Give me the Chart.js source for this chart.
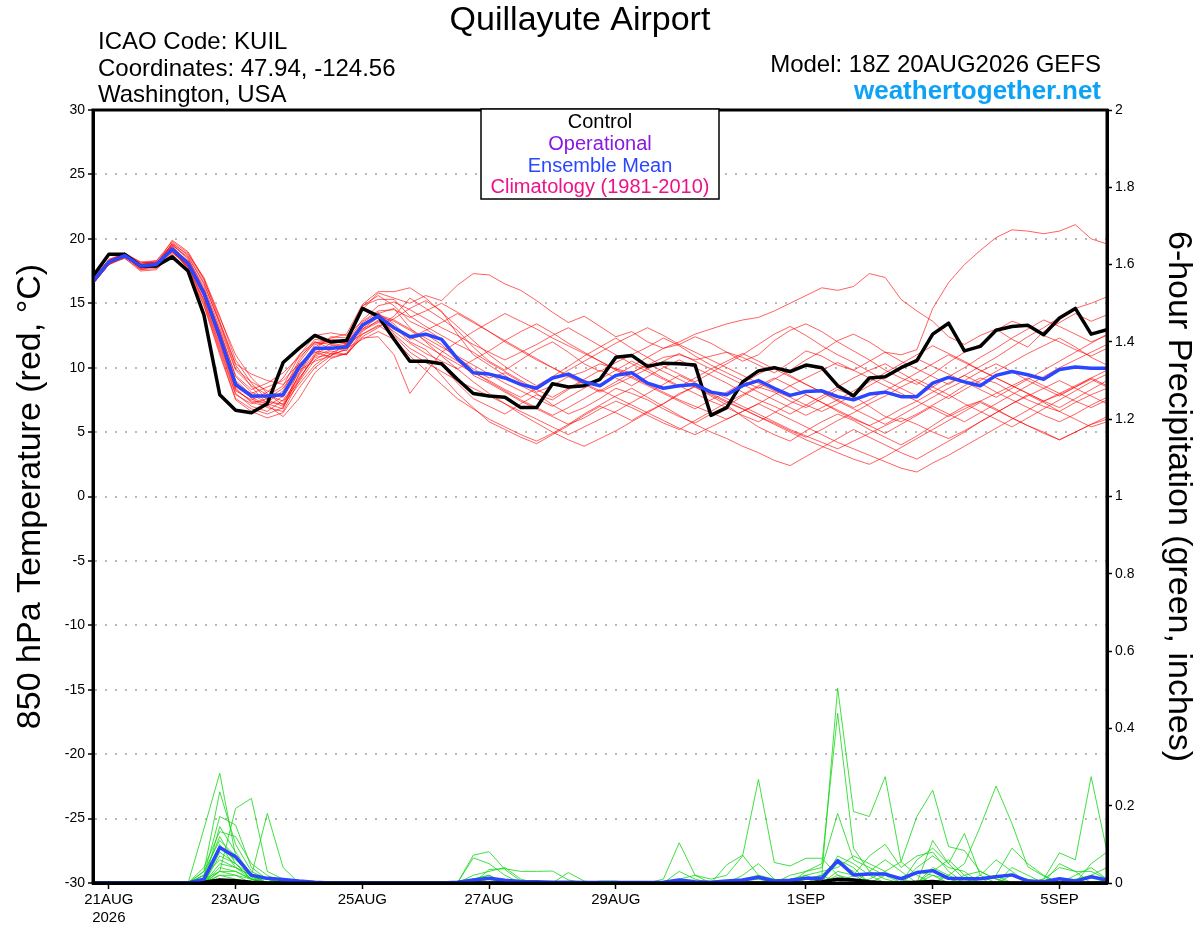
<!DOCTYPE html>
<html>
<head>
<meta charset="utf-8">
<title>Quillayute Airport - GEFS</title>
<script src="https://cdn.jsdelivr.net/npm/chart.js@4.4.1/dist/chart.umd.min.js"></script>
<style>
  html, body { margin: 0; padding: 0; background: #fff; }
  #wrap { width: 1200px; height: 927px; }
</style>
</head>
<body>
<div id="wrap"><canvas id="chart" width="1200" height="927"></canvas></div>
<script>
// GEFS meteogram - 850 hPa temperature and 6-hour precipitation

const FONT = '"Liberation Sans", Arial, Helvetica, sans-serif';

// x axis: 6-hour steps from 18Z 20AUG (step 0) to 18Z 5SEP (step 64)
const xTickSteps = [1, 9, 17, 25, 33, 45, 53, 61];
const xTickLabels = [['21AUG', '2026'], '23AUG', '25AUG', '27AUG', '29AUG', '1SEP', '3SEP', '5SEP'];

// 850 hPa temperature (C)
const ctrlTemp = [17.1, 18.8, 18.8, 17.9, 17.9, 18.6, 17.5, 14.1, 7.9, 6.7, 6.5, 7.2, 10.4, 11.5, 12.5, 12.0, 12.1, 14.6, 14.0,
  12.2, 10.5, 10.5, 10.3, 9.1, 8.0, 7.8, 7.7, 6.9, 6.9, 8.75, 8.5, 8.6, 9.1, 10.8, 10.95, 10.1, 10.35, 10.3, 10.2, 6.3, 6.9,
  8.9, 9.75, 10.0, 9.7, 10.2, 10.0, 8.6, 7.8, 9.2, 9.3, 10.0, 10.55, 12.6, 13.45, 11.3, 11.65, 12.9, 13.2, 13.3, 12.55, 13.85, 14.6, 12.6, 12.95];
const meanTemp = [16.7, 18.2, 18.7, 17.9, 18.0, 19.2, 18.1, 15.8, 12.4, 8.7, 7.8, 7.8, 7.9, 10.0, 11.5, 11.5, 11.6, 13.3, 14.0,
  13.1, 12.4, 12.6, 12.2, 10.7, 9.6, 9.5, 9.2, 8.7, 8.4, 9.2, 9.5, 8.9, 8.6, 9.4, 9.6, 8.8, 8.4, 8.6, 8.7, 8.1, 7.9,
  8.6, 9.0, 8.4, 7.85, 8.15, 8.2, 7.75, 7.5, 7.95, 8.1, 7.75, 7.75, 8.8, 9.25, 8.9, 8.6, 9.4, 9.7, 9.45, 9.1, 9.85, 10.05, 9.95, 9.95];

const t01 = [16.5, 18.1, 18.6, 17.8, 17.9, 19.5, 18.6, 16.5, 13.5, 10.2, 8.5, 7.2, 6.8, 9.5, 11.4, 12.4, 12.3, 14.8, 15.6,
  14.8, 13.6, 13.0, 12.2, 10.8, 9.9, 9.2, 9.6, 8.9, 8.1, 8.6, 9.3, 9.7, 10.3, 9.9, 9.6, 10.2, 10.8, 11.0, 10.6, 10.9, 11.2,
  10.8, 10.2, 9.6, 10.4, 11.3, 10.9, 10.2, 9.8, 10.5, 11.2, 11.0, 11.4, 14.6, 16.6, 18.0, 19.1, 20.1, 20.7, 20.6, 20.4, 20.6, 21.1, 20.0, 19.6];
const t02 = [16.8, 18.3, 18.9, 18.1, 18.2, 19.0, 17.8, 15.2, 11.6, 8.0, 7.0, 6.6, 7.5, 9.2, 10.8, 11.0, 11.4, 12.9, 13.5,
  13.2, 12.0, 11.4, 10.2, 8.8, 7.6, 7.0, 6.4, 7.2, 7.9, 7.5, 8.3, 9.0, 8.6, 9.4, 10.1, 10.8, 11.5, 12.0, 12.6, 13.0, 13.4,
  13.7, 13.9, 14.4, 15.0, 15.6, 16.2, 16.0, 16.3, 17.3, 17.0, 15.3, 14.4, 13.6, 12.4, 11.8, 12.5, 13.0, 12.2, 11.6, 12.8, 13.5, 14.2, 13.6, 14.1];
const t03 = [16.6, 18.1, 18.5, 17.5, 17.6, 18.9, 18.0, 16.0, 12.8, 9.4, 8.3, 8.8, 9.6, 10.8, 11.9, 12.2, 12.1, 14.5, 15.8,
  15.4, 15.0, 15.6, 15.2, 16.4, 17.3, 17.2, 16.5, 16.0, 15.2, 14.3, 13.5, 14.0, 13.2, 12.4, 12.8, 12.0, 11.5, 11.8, 12.4, 11.9, 11.2,
  10.5, 11.0, 12.1, 12.9, 13.4, 12.8, 12.0, 11.3, 10.6, 9.8, 9.2, 8.7, 9.5, 10.4, 11.2, 11.8, 12.9, 13.6, 13.2, 12.5, 12.0, 11.4, 10.9, 11.5];
const t04 = [16.9, 18.4, 18.8, 18.2, 18.3, 19.8, 18.9, 16.8, 13.9, 11.0, 9.2, 8.0, 7.1, 8.7, 10.2, 11.1, 11.8, 12.6, 13.2,
  13.8, 14.6, 15.2, 14.4, 12.6, 11.0, 10.2, 9.4, 8.6, 8.0, 7.1, 6.4, 6.9, 7.6, 8.4, 8.0, 7.5, 6.8, 6.2, 5.7, 6.4, 7.0,
  7.8, 8.5, 8.1, 7.4, 6.9, 7.6, 8.3, 7.8, 7.0, 6.2, 5.8, 6.4, 7.1, 7.8, 8.6, 9.2, 8.8, 8.1, 7.5, 7.0, 6.6, 7.3, 7.9, 8.4];
const t05 = [16.5, 18.0, 18.7, 17.6, 17.9, 19.3, 17.6, 14.9, 11.2, 7.6, 6.8, 6.4, 6.9, 9.9, 11.8, 12.0, 11.9, 13.5, 14.3,
  12.6, 11.5, 10.8, 9.4, 8.0, 6.9, 5.8, 5.2, 4.6, 4.1, 4.8, 5.5, 6.3, 7.0, 6.5, 5.9, 6.6, 7.2, 8.0, 8.5, 7.8, 7.1,
  6.2, 5.4, 4.8, 4.3, 5.1, 5.8, 6.4, 5.9, 5.2, 4.6, 4.0, 4.7, 5.5, 6.3, 7.0, 7.4, 6.8, 6.1, 5.5, 5.0, 4.4, 5.0, 5.6, 6.0];
const t06 = [16.7, 18.2, 18.6, 18.0, 18.1, 19.6, 18.4, 16.3, 13.1, 9.8, 8.6, 7.9, 7.4, 8.9, 10.6, 11.3, 11.0, 12.4, 13.1,
  14.0, 15.4, 14.6, 13.8, 12.9, 11.6, 10.5, 9.8, 10.6, 11.4, 12.0, 11.2, 10.3, 9.7, 10.4, 11.0, 11.6, 12.3, 11.7, 10.9, 10.2, 9.6,
  9.0, 8.4, 9.1, 9.8, 10.6, 11.3, 12.1, 12.6, 12.0, 11.2, 10.5, 9.9, 9.3, 8.7, 9.4, 10.1, 10.8, 11.6, 12.4, 13.1, 13.9, 14.6, 15.0, 15.5];
const t07 = [16.6, 18.2, 18.8, 17.9, 17.8, 19.1, 17.9, 15.5, 12.0, 8.3, 7.4, 7.3, 8.2, 10.6, 12.2, 12.0, 12.2, 14.8, 15.3,
  15.3, 14.0, 13.2, 12.5, 11.8, 11.2, 10.4, 9.7, 9.0, 8.3, 7.7, 8.4, 9.1, 9.8, 9.2, 8.6, 9.3, 10.0, 10.6, 10.0, 9.4, 8.8,
  8.1, 7.5, 7.0, 6.4, 7.1, 7.8, 8.5, 9.2, 9.8, 10.3, 9.6, 8.9, 8.2, 7.6, 8.3, 9.0, 9.7, 10.4, 11.1, 11.7, 12.3, 11.6, 10.8, 10.2];
const t08 = [16.8, 18.3, 18.7, 17.7, 18.0, 19.4, 18.2, 15.9, 12.6, 8.9, 7.6, 6.9, 6.6, 9.0, 11.0, 11.7, 11.9, 13.1, 14.2,
  13.4, 12.2, 12.6, 11.8, 10.6, 9.4, 8.8, 8.1, 7.4, 6.8, 6.2, 5.6, 6.1, 6.8, 7.4, 6.9, 6.3, 5.7, 5.2, 5.9, 6.6, 7.3,
  7.9, 8.6, 9.2, 8.6, 7.9, 7.3, 6.6, 6.0, 5.5, 6.1, 6.8, 7.4, 8.1, 8.8, 9.4, 8.8, 8.1, 7.5, 6.9, 6.3, 5.8, 6.4, 7.1, 7.7];
const t09 = [16.6, 18.1, 18.6, 18.0, 18.2, 19.0, 17.9, 15.6, 12.3, 8.6, 8.0, 8.5, 9.0, 10.3, 11.2, 10.8, 11.1, 12.8, 13.7,
  12.8, 11.9, 11.1, 10.5, 9.9, 10.6, 11.3, 12.1, 12.8, 13.4, 12.7, 11.9, 11.2, 10.5, 9.8, 9.2, 8.6, 8.0, 7.4, 6.8, 7.5, 8.1,
  8.8, 9.5, 10.1, 9.4, 8.7, 8.1, 7.4, 6.8, 6.2, 5.6, 6.3, 7.0, 7.7, 8.4, 9.0, 9.7, 10.3, 9.7, 9.0, 8.4, 7.8, 8.5, 9.2, 9.8];
const t10 = [16.7, 18.3, 18.8, 17.8, 17.9, 19.7, 18.7, 16.6, 13.4, 9.9, 8.9, 8.2, 7.7, 9.6, 11.6, 12.3, 12.6, 14.9, 15.9,
  15.9, 16.2, 15.4, 14.3, 13.2, 12.1, 11.0, 10.1, 9.3, 8.6, 9.3, 10.1, 10.9, 11.6, 12.3, 11.5, 10.8, 10.1, 9.5, 8.9, 9.6, 10.3,
  11.0, 11.8, 12.6, 13.2, 12.5, 11.7, 11.0, 10.4, 9.7, 9.0, 8.4, 7.8, 8.5, 9.3, 10.0, 10.8, 11.5, 12.3, 13.0, 13.7, 13.2, 12.6, 12.0, 12.5];
const t11 = [16.5, 18.0, 18.5, 17.6, 17.7, 18.8, 17.4, 14.8, 11.0, 7.5, 6.6, 6.1, 6.5, 8.4, 10.0, 10.9, 11.5, 12.2, 12.8,
  12.2, 10.9, 9.8, 8.7, 7.6, 6.8, 6.0, 5.4, 4.8, 4.3, 4.9, 5.6, 6.4, 7.1, 7.8, 8.4, 7.7, 7.0, 6.3, 5.6, 5.0, 4.5,
  3.9, 3.4, 2.8, 2.4, 3.1, 3.8, 4.5, 5.2, 4.6, 4.0, 3.4, 2.9, 3.6, 4.3, 5.0, 5.8, 6.5, 7.2, 7.9, 7.3, 6.6, 6.0, 5.4, 5.8];
const t12 = [16.8, 18.2, 18.7, 18.1, 18.3, 19.5, 18.5, 16.1, 12.9, 9.3, 8.1, 7.6, 7.9, 9.9, 11.4, 11.6, 11.3, 13.2, 14.1,
  13.7, 13.0, 12.3, 11.6, 10.9, 10.2, 9.5, 8.8, 8.2, 7.6, 7.0, 7.7, 8.4, 9.1, 9.8, 10.5, 9.9, 9.2, 8.6, 8.0, 7.4, 6.9,
  6.3, 5.8, 6.5, 7.2, 7.9, 7.3, 6.7, 6.1, 5.5, 4.9, 5.6, 6.3, 7.0, 6.4, 5.8, 6.5, 7.2, 7.9, 8.6, 9.3, 10.0, 10.6, 11.2, 11.8];
const t13 = [16.6, 18.2, 18.9, 18.0, 18.1, 19.2, 18.0, 15.7, 12.2, 8.5, 7.7, 7.8, 8.6, 10.9, 12.5, 12.7, 12.5, 13.6, 14.4,
  14.5, 13.9, 14.4, 15.0, 14.3, 13.6, 12.8, 12.0, 11.3, 10.6, 10.0, 9.4, 8.8, 8.2, 8.9, 9.6, 10.3, 9.7, 9.1, 8.5, 7.9, 7.3,
  6.8, 6.2, 5.7, 5.1, 4.6, 5.2, 5.9, 6.5, 7.2, 7.8, 8.5, 9.1, 8.5, 7.9, 7.2, 6.6, 6.0, 5.4, 6.1, 6.8, 7.5, 8.2, 8.9, 9.5];
const t14 = [16.7, 18.1, 18.6, 17.8, 17.9, 19.6, 18.8, 17.0, 14.0, 10.6, 8.8, 7.5, 7.0, 9.1, 10.9, 11.4, 11.7, 13.0, 13.6,
  13.1, 12.4, 11.7, 11.0, 10.3, 9.6, 9.0, 8.3, 7.7, 8.4, 9.1, 9.8, 10.5, 11.2, 11.9, 12.5, 13.1, 12.5, 11.8, 11.2, 10.6, 10.0,
  9.4, 8.8, 8.2, 7.7, 7.1, 6.6, 7.2, 7.9, 8.6, 9.3, 10.0, 10.7, 10.1, 9.5, 8.9, 8.3, 7.7, 8.4, 9.1, 9.8, 10.5, 11.2, 11.9, 12.6];
const t15 = [16.9, 18.4, 18.9, 18.2, 18.1, 19.1, 17.7, 15.1, 11.4, 7.9, 7.2, 7.6, 8.4, 10.2, 11.3, 11.1, 11.0, 12.6, 13.3,
  12.5, 11.2, 10.4, 9.7, 9.0, 8.4, 7.8, 7.2, 6.6, 6.0, 5.4, 4.8, 5.4, 6.0, 6.6, 7.3, 8.0, 8.7, 9.4, 8.8, 8.2, 7.6,
  7.0, 6.4, 5.8, 5.2, 4.7, 4.2, 3.7, 4.3, 4.9, 5.5, 6.1, 5.6, 5.0, 4.5, 5.1, 5.8, 6.5, 7.2, 7.8, 8.4, 9.0, 8.4, 7.8, 7.2];
const t16 = [16.6, 18.1, 18.7, 17.9, 18.0, 19.3, 18.3, 16.0, 12.7, 9.0, 7.9, 7.3, 7.2, 9.4, 11.1, 11.9, 12.0, 13.7, 14.8,
  15.1, 14.5, 13.8, 13.1, 12.5, 11.8, 11.2, 10.6, 11.2, 11.8, 12.5, 13.1, 12.4, 11.7, 11.0, 10.3, 9.7, 9.1, 8.5, 9.2, 9.9, 10.5,
  11.1, 10.5, 9.9, 9.3, 8.7, 8.1, 7.5, 6.9, 7.5, 8.2, 8.9, 9.6, 10.3, 11.0, 10.4, 9.8, 9.2, 8.6, 8.0, 7.4, 6.9, 7.6, 8.3, 9.0];
const t17 = [16.7, 18.3, 18.8, 18.0, 18.2, 19.4, 18.1, 15.6, 12.1, 8.4, 7.3, 7.0, 7.8, 10.4, 12.0, 11.8, 11.6, 13.4, 14.0,
  13.6, 12.9, 12.1, 11.3, 10.5, 9.7, 8.9, 8.2, 7.5, 6.9, 6.3, 6.9, 7.6, 8.3, 7.7, 7.1, 6.5, 5.9, 5.3, 4.8, 5.4, 6.0,
  6.6, 7.2, 6.6, 6.0, 5.4, 4.8, 4.2, 3.7, 3.2, 2.7, 2.2, 1.9, 2.6, 3.2, 3.9, 4.6, 5.3, 6.0, 6.7, 7.4, 8.0, 8.6, 9.2, 8.6];
const t18 = [16.8, 18.2, 18.6, 17.7, 17.8, 19.0, 17.8, 15.3, 11.8, 8.2, 7.5, 8.1, 9.2, 11.0, 12.0, 11.5, 11.8, 13.0, 13.9,
  13.0, 12.3, 12.9, 13.5, 14.2, 13.5, 12.8, 12.1, 11.4, 10.7, 10.0, 9.3, 8.7, 8.1, 8.7, 9.3, 9.9, 10.5, 11.1, 10.5, 9.9, 9.3,
  8.7, 8.1, 7.5, 6.9, 6.3, 6.9, 7.5, 8.2, 8.9, 9.6, 10.3, 11.0, 11.7, 11.1, 10.5, 9.8, 9.2, 8.6, 8.0, 7.4, 7.9, 8.5, 9.1, 8.5];
const t19 = [16.5, 18.0, 18.6, 17.8, 18.0, 19.9, 19.0, 16.9, 13.6, 10.3, 9.5, 9.0, 8.7, 9.8, 10.5, 10.9, 11.9, 13.3, 14.2,
  14.6, 13.1, 12.0, 10.9, 9.9, 8.9, 8.0, 7.2, 6.4, 5.7, 5.0, 4.4, 3.9, 4.5, 5.1, 5.8, 6.5, 7.2, 7.9, 8.6, 8.0, 7.4,
  6.8, 6.2, 5.6, 5.0, 4.4, 3.9, 3.4, 2.9, 2.5, 3.1, 3.8, 4.5, 5.2, 5.9, 6.6, 7.3, 6.7, 6.1, 5.5, 4.9, 4.4, 5.0, 5.6, 6.2];
const t20 = [16.7, 18.2, 18.7, 18.0, 18.1, 19.2, 18.2, 15.9, 12.5, 8.8, 7.7, 7.1, 6.2, 7.6, 9.6, 10.7, 11.1, 12.3, 12.4,
  11.0, 8.0, 9.6, 11.2, 12.0, 12.8, 13.5, 14.2, 13.6, 13.0, 12.3, 11.7, 11.1, 10.5, 9.9, 9.3, 8.7, 8.1, 7.5, 7.0, 6.5, 6.0,
  6.6, 7.2, 7.9, 8.6, 9.2, 9.8, 10.4, 9.8, 9.2, 8.6, 8.0, 7.4, 6.8, 6.2, 6.8, 7.4, 8.0, 8.6, 9.2, 8.6, 8.0, 7.4, 6.9, 7.5];
const tempMembers = [t01, t02, t03, t04, t05, t06, t07, t08, t09, t10, t11, t12, t13, t14, t15, t16, t17, t18, t19, t20];

// 6-hour precipitation (inches)
const ctrlPrecip = [0, 0, 0, 0, 0, 0, 0, 0.002, 0.008, 0.006, 0.002, 0, 0, 0, 0, 0, 0, 0, 0, 0, 0, 0, 0, 0, 0,
  0, 0, 0, 0, 0, 0, 0, 0, 0, 0, 0, 0, 0, 0, 0, 0, 0, 0, 0, 0, 0, 0.003, 0.01, 0.008, 0.003,
  0, 0, 0.002, 0.004, 0, 0, 0, 0, 0, 0, 0, 0, 0, 0, 0];
const meanPrecip = [0, 0, 0, 0, 0, 0, 0, 0.01, 0.092, 0.068, 0.02, 0.012, 0.009, 0.005, 0.002, 0, 0, 0, 0, 0,
  0, 0, 0, 0.002, 0.008, 0.012, 0.007, 0.004, 0.003, 0.002, 0.002, 0.001, 0.001, 0.001, 0.001,
  0.001, 0.002, 0.008, 0.003, 0.002, 0.005, 0.008, 0.015, 0.005, 0.007, 0.012, 0.012, 0.058, 0.021, 0.023,
  0.023, 0.011, 0.027, 0.032, 0.012, 0.011, 0.011, 0.016, 0.021, 0.005, 0.003, 0.011, 0.005, 0.016, 0.008];

const p01 = [0,0,0,0,0, 0,0,0.14,0.284,0.07, 0.02,0.01,0,0,0, 0,0,0,0,0, 0,0,0,0,0.01, 0.02,0,0,0,0, 0,0,0,0,0, 0,0,0,0,0, 0,0.02,0.05,0.01,0, 0,0.02,0.504,0.185,0.172, 0.275,0.055,0.02,0,0, 0,0.01,0.02,0,0, 0,0.01,0,0,0];
const p02 = [0,0,0,0,0, 0,0,0.03,0.236,0.1, 0.03,0.01,0,0,0, 0,0,0,0,0, 0,0,0,0,0, 0,0,0,0,0, 0,0,0,0,0, 0,0,0,0,0, 0,0,0,0,0, 0.03,0.05,0.439,0.09,0.03, 0.01,0,0,0.02,0.01, 0,0,0,0,0, 0,0,0,0,0];
const p03 = [0,0,0,0,0, 0,0,0.02,0.172,0.15, 0.04,0.01,0,0,0, 0,0,0,0,0, 0,0,0,0,0, 0,0,0,0,0, 0,0,0,0,0, 0,0,0.01,0.02,0.01, 0.02,0.07,0.268,0.053,0.044, 0.064,0.064,0.02,0,0, 0,0,0,0,0, 0,0,0,0,0, 0,0,0,0,0];
const p04 = [0,0,0,0,0, 0,0,0.01,0.03,0.193, 0.219,0.03,0.01,0,0, 0,0,0,0,0, 0,0,0,0,0, 0,0,0,0,0, 0,0,0,0,0, 0,0,0,0,0, 0,0,0,0,0, 0,0,0,0,0.01, 0.03,0.055,0.172,0.24,0.094, 0.084,0.03,0.01,0,0, 0,0,0,0,0];
const p05 = [0,0,0,0,0, 0,0,0,0.146,0.08, 0.02,0,0,0,0, 0,0,0,0,0, 0,0,0,0,0.072, 0.081,0.035,0.005,0,0, 0,0,0,0,0, 0,0,0,0,0, 0,0,0,0,0, 0,0,0,0,0, 0,0,0,0,0.02, 0.05,0.146,0.251,0.154,0.042, 0.018,0,0,0,0];
const p06 = [0,0,0,0,0, 0,0,0.04,0.133,0.12, 0.05,0.02,0,0,0, 0,0,0,0,0, 0,0,0,0,0, 0,0,0,0,0, 0,0,0,0,0, 0,0,0,0,0, 0,0,0,0,0, 0,0,0,0,0, 0,0,0,0,0, 0,0,0,0,0, 0.01,0.078,0.06,0.275,0.081];
const p07 = [0,0,0,0,0, 0,0,0.02,0.12,0.05, 0.02,0.18,0.04,0,0, 0,0,0,0,0, 0,0,0,0,0, 0,0,0,0,0, 0,0,0,0,0, 0,0.01,0.104,0.02,0, 0,0,0,0,0.02, 0.03,0.04,0.18,0.06,0.04, 0.02,0,0,0,0, 0,0,0,0,0, 0,0,0,0,0];
const p08 = [0,0,0,0,0, 0,0,0.03,0.11,0.07, 0.015,0,0,0,0, 0,0,0,0,0, 0,0,0,0,0.065, 0.05,0.02,0,0,0, 0,0,0,0,0, 0,0,0,0,0, 0,0,0,0,0, 0,0,0,0,0, 0,0,0.06,0.09,0.05, 0.128,0.02,0,0,0, 0,0,0,0,0];
const p09 = [0,0,0,0,0, 0,0,0,0.1,0.04, 0.01,0,0,0,0, 0,0,0,0,0, 0,0,0,0,0, 0.035,0.037,0.03,0.03,0.031, 0.008,0,0,0,0, 0,0,0,0,0, 0,0,0,0,0, 0,0,0,0.02,0.07, 0.1,0.04,0.07,0.08,0.03, 0,0,0,0,0, 0,0,0,0,0];
const p10 = [0,0,0,0,0, 0,0,0,0.09,0.06, 0.02,0,0,0,0, 0,0,0,0,0, 0,0,0,0,0, 0,0,0,0,0, 0,0,0,0,0, 0,0,0,0,0, 0.047,0.072,0.02,0,0, 0,0.01,0.05,0.03,0, 0,0,0,0,0, 0,0,0.02,0.09,0.05, 0.02,0,0,0,0];
const p11 = [0,0,0,0,0, 0,0,0,0.08,0.05, 0.01,0,0,0,0, 0,0,0,0,0, 0,0,0,0,0.02, 0.03,0.04,0.01,0,0, 0,0,0,0,0, 0,0,0,0,0, 0,0,0,0,0.01, 0.02,0,0,0,0, 0,0,0.04,0.07,0.04, 0.03,0,0,0,0, 0,0,0.02,0.04,0.01];
const p12 = [0,0,0,0,0, 0,0,0,0.07,0.05, 0.01,0.01,0.01,0,0, 0,0,0,0,0, 0,0,0,0,0, 0,0,0,0,0, 0.027,0.005,0,0,0, 0,0,0,0,0, 0,0,0,0,0, 0,0,0.07,0.05,0.02, 0,0,0,0,0, 0,0,0,0,0, 0,0.05,0.03,0.03,0.01];
const p13 = [0,0,0,0,0, 0,0,0.02,0.06,0.04, 0.02,0,0,0,0, 0,0,0,0,0, 0,0,0,0,0, 0,0,0,0,0, 0,0,0,0,0, 0,0,0.03,0.01,0, 0,0,0,0,0, 0.02,0.03,0.04,0.07,0.05, 0.03,0,0,0,0, 0,0.02,0.06,0.03,0, 0,0,0,0,0];
const p14 = [0,0,0,0,0, 0,0,0,0.05,0.04, 0.02,0.01,0,0,0, 0,0,0,0,0, 0,0,0,0,0.01, 0.02,0,0,0,0, 0,0,0,0,0, 0,0,0,0,0, 0,0,0,0,0, 0,0,0,0,0, 0,0,0,0.11,0.05, 0.01,0,0,0,0, 0.01,0.04,0.03,0,0];
const p15 = [0,0,0,0,0, 0,0,0,0.04,0.03, 0.01,0,0,0,0, 0,0,0,0,0, 0,0,0,0,0, 0,0,0,0,0, 0,0,0,0,0, 0,0,0,0,0, 0,0.01,0.02,0.01,0, 0,0,0,0,0.03, 0.06,0.03,0,0,0, 0,0,0,0.02,0.01, 0,0,0.01,0.02,0.04];
const p16 = [0,0,0,0,0, 0,0,0,0.03,0.03, 0.01,0,0,0,0, 0,0,0,0,0, 0,0,0,0,0, 0,0,0,0,0, 0,0,0.005,0.005,0, 0,0,0,0,0, 0,0,0,0,0, 0,0,0.03,0.02,0, 0,0,0,0.03,0.06, 0.02,0,0,0,0, 0,0,0,0.05,0.08];
const p17 = [0,0,0,0,0, 0,0,0,0.03,0.02, 0,0,0,0,0, 0,0,0,0,0, 0,0,0,0,0, 0,0,0,0,0, 0,0,0,0,0, 0,0,0,0,0, 0,0,0,0,0, 0.01,0.02,0.06,0.04,0, 0,0,0,0,0, 0.02,0.03,0.01,0,0, 0,0,0,0,0];
const p18 = [0,0,0,0,0, 0,0,0,0.02,0.02, 0.01,0,0,0,0, 0,0,0,0,0, 0,0,0,0,0, 0.01,0,0,0,0, 0,0,0,0,0, 0,0,0,0,0, 0,0.005,0.01,0,0, 0,0,0,0,0, 0.02,0.01,0,0,0, 0,0,0,0.04,0.02, 0,0,0,0,0];
const p19 = [0,0,0,0,0, 0,0,0,0.02,0.01, 0,0,0,0,0, 0,0,0,0,0, 0,0,0,0,0, 0,0,0,0,0, 0,0,0,0,0, 0,0,0,0,0, 0,0,0,0,0, 0,0,0.02,0.01,0, 0,0,0,0.04,0.02, 0,0,0,0,0, 0,0,0,0.02,0];
const p20 = [0,0,0,0,0, 0,0,0,0.01,0, 0,0,0,0,0, 0,0,0,0,0, 0,0,0,0,0, 0,0,0,0,0, 0,0,0,0,0, 0,0,0,0,0, 0,0,0,0,0, 0.01,0.02,0,0,0, 0,0,0.03,0.02,0, 0,0,0,0,0, 0,0,0,0,0.01];
const precipMembers = [p01, p02, p03, p04, p05, p06, p07, p08, p09, p10, p11, p12, p13, p14, p15, p16, p17, p18, p19, p20];

// header / legend texts
const titleText = 'Quillayute Airport';
const infoLeft = ['ICAO Code: KUIL', 'Coordinates: 47.94, -124.56', 'Washington, USA'];
const modelText = 'Model: 18Z 20AUG2026 GEFS';
const siteText = 'weathertogether.net';
const legendItems = ['Control', 'Operational', 'Ensemble Mean', 'Climatology (1981-2010)'];
const legendColors = ['#000000', '#8a18e2', '#2b46ff', '#ee1188'];

const BLUE = '#2b46ff';

function toPoints(arr) {
    return arr.map((v, i) => ({ x: i, y: v }));
}

// header text, legend box and plot frame
const decorPlugin = {
    id: 'decor',
    afterDraw(chart) {
        const ctx = chart.ctx;
        const a = chart.chartArea;
        ctx.save();

        ctx.strokeStyle = '#000';
        ctx.lineWidth = 3;
        ctx.setLineDash([]);
        ctx.strokeRect(a.left, a.top, a.right - a.left, a.bottom - a.top);

        ctx.fillStyle = '#000';
        ctx.textBaseline = 'alphabetic';
        ctx.textAlign = 'center';
        ctx.font = '34px ' + FONT;
        ctx.fillText(titleText, 580, 30);

        ctx.textAlign = 'left';
        ctx.font = '24px ' + FONT;
        infoLeft.forEach((t, i) => ctx.fillText(t, 98, 49 + i * 26.5));

        ctx.textAlign = 'right';
        ctx.fillText(modelText, 1101, 72);
        ctx.font = 'bold 26px ' + FONT;
        ctx.fillStyle = '#0ea2f6';
        ctx.fillText(siteText, 1101, 99);

        // legend box
        ctx.fillStyle = '#fff';
        ctx.fillRect(481, 109, 238, 90);
        ctx.strokeStyle = '#000';
        ctx.lineWidth = 1.5;
        ctx.strokeRect(481, 109, 238, 90);
        ctx.textAlign = 'center';
        ctx.font = '20px ' + FONT;
        legendItems.forEach((t, i) => {
            ctx.fillStyle = legendColors[i];
            ctx.fillText(t, 600, 128 + i * 21.8);
        });

        ctx.restore();
    }
};

const datasets = [
    { data: toPoints(meanTemp), yAxisID: 'y', borderColor: BLUE, borderWidth: 3.5, order: 0 },
    { data: toPoints(ctrlTemp), yAxisID: 'y', borderColor: '#000', borderWidth: 3.5, order: 1 },
    { data: toPoints(meanPrecip), yAxisID: 'y1', borderColor: BLUE, borderWidth: 3.5, order: 0 },
    { data: toPoints(ctrlPrecip), yAxisID: 'y1', borderColor: '#000', borderWidth: 3.5, order: 1 },
];
tempMembers.forEach(m => datasets.push({
    data: toPoints(m), yAxisID: 'y', borderColor: 'rgba(255,0,0,0.62)', borderWidth: 1, order: 3,
}));
precipMembers.forEach(m => datasets.push({
    data: toPoints(m), yAxisID: 'y1', borderColor: 'rgba(20,215,20,0.8)', borderWidth: 1, order: 3,
}));

Chart.defaults.font.family = FONT;
Chart.defaults.color = '#000';

new Chart(document.getElementById('chart'), {
    type: 'line',
    data: { datasets: datasets },
    options: {
        responsive: false,
        devicePixelRatio: 1,
        animation: false,
        layout: { padding: { top: 110, left: 0, right: 0, bottom: 0 } },
        elements: {
            point: { radius: 0 },
            line: { tension: 0, borderJoinStyle: 'round', borderCapStyle: 'round' },
        },
        plugins: {
            legend: { display: false },
            tooltip: { enabled: false },
            title: { display: false },
        },
        scales: {
            x: {
                type: 'linear',
                min: 0,
                max: 64,
                afterBuildTicks: s => { s.ticks = xTickSteps.map(v => ({ value: v })); },
                afterFit: s => { s.height = 44; },
                ticks: {
                    autoSkip: false,
                    maxRotation: 0,
                    padding: 2,
                    font: { size: 15 },
                    color: '#000',
                    callback: v => xTickLabels[xTickSteps.indexOf(v)],
                },
                grid: { drawOnChartArea: false, tickLength: 6, tickColor: '#000', tickWidth: 1.5 },
                border: { color: '#000', width: 3 },
            },
            y: {
                type: 'linear',
                position: 'left',
                min: -30,
                max: 30,
                afterFit: s => { s.width = 93; },
                ticks: { stepSize: 5, padding: 3, font: { size: 14 }, color: '#000' },
                grid: {
                    color: '#b8b8b8',
                    lineWidth: 2,
                    tickLength: 5,
                    tickColor: '#000',
                    tickWidth: 1.5,
                    tickBorderDash: [],
                },
                border: { color: '#000', width: 3, dash: [2, 8] },
                title: {
                    display: true,
                    text: '850 hPa Temperature (red, °C)',
                    font: { size: 34 },
                    color: '#000',
                    padding: { top: 10, bottom: 0 },
                },
            },
            y1: {
                type: 'linear',
                position: 'right',
                min: 0,
                max: 2,
                afterFit: s => { s.width = 93; },
                ticks: {
                    stepSize: 0.2,
                    padding: 3,
                    font: { size: 14 },
                    color: '#000',
                    callback: v => String(Math.round(v * 10) / 10),
                },
                grid: { drawOnChartArea: false, tickLength: 5, tickColor: '#000', tickWidth: 1.5 },
                border: { color: '#000', width: 3 },
                title: {
                    display: true,
                    text: '6-hour Precipitation (green, inches)',
                    font: { size: 34 },
                    color: '#000',
                    padding: { top: 1, bottom: 0 },
                },
            },
        },
    },
    plugins: [decorPlugin],
});
</script>
</body>
</html>
